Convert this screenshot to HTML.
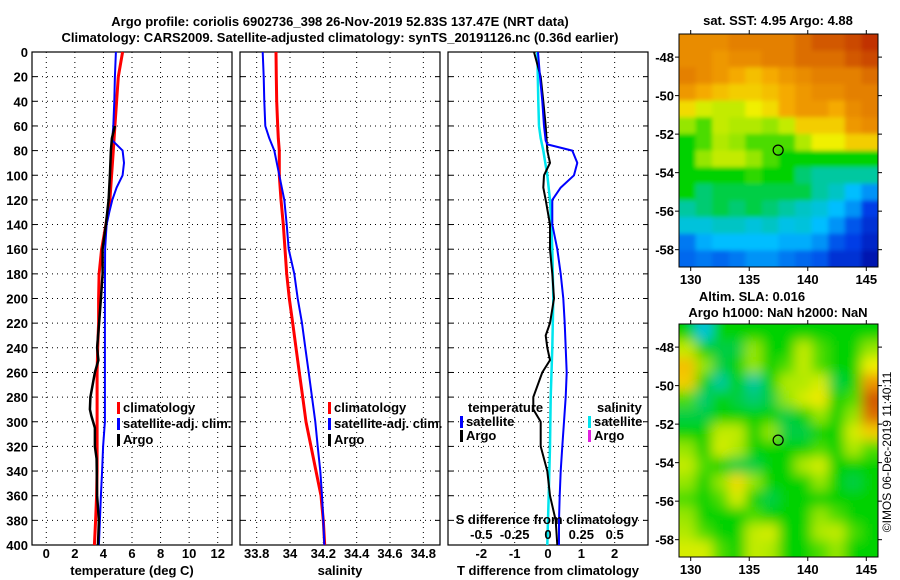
<!DOCTYPE html>
<html><head><meta charset="utf-8">
<style>
html,body{margin:0;padding:0;background:#fff;}
svg{display:block;font-family:"Liberation Sans",Arial,sans-serif;}
text{font-weight:bold;font-size:13px;fill:#000;}
</style></head>
<body>
<svg id="fig" width="900" height="580" viewBox="0 0 900 580" xmlns="http://www.w3.org/2000/svg">
<defs>
<filter id="blurS" x="-5%" y="-5%" width="110%" height="110%"><feGaussianBlur stdDeviation="2"/></filter>
<filter id="blurL" x="-5%" y="-5%" width="110%" height="110%"><feGaussianBlur stdDeviation="6"/></filter>
<clipPath id="clip1"><rect x="679" y="34" width="199" height="233"/></clipPath>
<clipPath id="clip2"><rect x="679" y="324" width="199" height="233"/></clipPath>
</defs>
<rect width="900" height="580" fill="#fff"/>
<text x="340" y="26" text-anchor="middle" font-size="14">Argo profile: coriolis 6902736_398 26-Nov-2019 52.83S 137.47E (NRT data)</text>
<text x="340" y="42" text-anchor="middle" font-size="14">Climatology: CARS2009. Satellite-adjusted climatology: synTS_20191126.nc (0.36d earlier)</text>
<g id="p1"></g>
<g id="p2"></g>
<g id="p3"></g>
<g id="m1"></g>
<g id="m2"></g>
<text x="778" y="25" text-anchor="middle">sat. SST: 4.95 Argo: 4.88</text>
<text x="752" y="301" text-anchor="middle">Altim. SLA: 0.016</text>
<text x="778" y="317" text-anchor="middle">Argo h1000: NaN h2000: NaN</text>
<text transform="translate(891,452) rotate(-90)" text-anchor="middle" style="font-weight:normal;font-size:12px">©IMOS 06-Dec-2019 11:40:11</text>
</svg>
<script>
// ---------- data ----------
const tempDepthClim = [0,20,40,60,80,100,120,140,160,180,200,220,240,260,280,300,320,340,360,380,400];
const tempClim = [5.34,5.04,4.92,4.8,4.69,4.57,4.45,4.17,3.87,3.7,3.66,3.66,3.6,3.56,3.56,3.56,3.56,3.56,3.52,3.45,3.37];
const tempDepthSat = [0,20,40,60,70,72,80,90,100,110,120,130,140,160,200,250,300,320,340,360,380,400];
const tempSat = [4.87,4.8,4.76,4.69,4.62,4.64,5.34,5.44,5.34,4.92,4.62,4.41,4.22,4.12,4.1,4.1,4.1,3.98,3.91,3.82,3.75,3.68];
const tempDepthArgo = [60,70,80,100,120,140,160,180,200,220,240,250,260,280,290,295,305,320,330,360,380,400];
const tempArgo = [4.8,4.59,4.52,4.45,4.36,4.17,3.94,3.94,3.82,3.7,3.56,3.65,3.4,3.09,3.05,3.15,3.4,3.4,3.52,3.56,3.68,3.62];

const salDepth = [0,20,40,60,70,80,100,120,140,160,180,200,220,240,260,280,300,320,340,360,380,400];
const salClim = [33.916,33.918,33.92,33.926,33.93,33.936,33.936,33.946,33.96,33.97,33.98,33.996,34.016,34.036,34.056,34.076,34.096,34.126,34.156,34.186,34.2,34.208];
const salSat = [33.836,33.842,33.846,33.852,33.876,33.906,33.936,33.966,33.98,33.992,34.026,34.046,34.072,34.092,34.112,34.132,34.152,34.166,34.182,34.192,34.2,34.206];

const diffDepthT = [0,20,40,60,72,75,80,90,100,110,120,140,160,180,200,220,240,260,280,300,320,340,360,380,400];
const diffTSat = [-0.3,-0.24,-0.17,-0.12,-0.07,-0.02,0.73,0.88,0.78,0.38,0.13,0.13,0.28,0.38,0.46,0.5,0.53,0.56,0.53,0.48,0.43,0.38,0.35,0.33,0.33];
const diffDepthArgo = [0,20,40,60,80,90,100,110,120,140,160,180,200,220,230,240,250,260,280,290,300,320,340,360,380,400];
const diffTArgo = [-0.42,-0.22,-0.14,-0.07,-0.02,0.06,-0.12,-0.14,-0.07,0.06,0.06,0.13,0.18,0.06,-0.07,-0.02,0.06,-0.17,-0.44,-0.44,-0.22,-0.22,-0.02,0.06,0.23,0.28];
const diffDepthS = [0,40,60,70,80,100,120,140,160,200,240,280,320,360,400];
const diffSSat = [-0.08,-0.0725,-0.0675,-0.055,-0.035,-0.005,0.015,0.025,0.0325,0.04,0.0325,0.02,0.015,0.005,-0.005];

const depthTicks = [0,20,40,60,80,100,120,140,160,180,200,220,240,260,280,300,320,340,360,380,400];
const tempTicks = [0,2,4,6,8,10,12];
const salTicks = [33.8,34,34.2,34.4,34.6,34.8];
const salTickLabels = ["33.8","34","34.2","34.4","34.6","34.8"];
const diffTTicks = [-2,-1,0,1,2];
const diffSTicks = [-0.5,-0.25,0,0.25,0.5];
const diffSTickLabels = ["-0.5","-0.25","0","0.25","0.5"];

const lonTicks = [130,135,140,145];
const latTicks = [-48,-50,-52,-54,-56,-58];
const argoLon = 137.47, argoLat = -52.83;

const sstGrid = [
[0.8,0.8,0.8,0.82,0.82,0.82,0.82,0.85,0.88,0.88,0.9,0.93],
[0.8,0.8,0.78,0.8,0.8,0.82,0.82,0.85,0.85,0.85,0.88,0.9],
[0.82,0.8,0.78,0.75,0.72,0.75,0.78,0.8,0.82,0.82,0.82,0.85],
[0.78,0.75,0.72,0.7,0.7,0.72,0.75,0.78,0.8,0.8,0.82,0.82],
[0.68,0.62,0.6,0.6,0.65,0.68,0.75,0.78,0.78,0.75,0.8,0.82],
[0.55,0.5,0.6,0.58,0.58,0.55,0.6,0.7,0.7,0.7,0.78,0.8],
[0.45,0.5,0.58,0.55,0.5,0.5,0.5,0.58,0.65,0.65,0.7,0.7],
[0.45,0.55,0.6,0.6,0.55,0.5,0.45,0.45,0.45,0.45,0.45,0.45],
[0.45,0.45,0.45,0.45,0.48,0.45,0.45,0.4,0.38,0.38,0.38,0.38],
[0.45,0.4,0.42,0.42,0.42,0.42,0.42,0.42,0.38,0.35,0.3,0.25],
[0.38,0.4,0.42,0.4,0.42,0.4,0.38,0.35,0.33,0.3,0.25,0.15],
[0.33,0.33,0.35,0.35,0.33,0.35,0.32,0.33,0.3,0.25,0.18,0.12],
[0.22,0.28,0.3,0.3,0.3,0.3,0.28,0.28,0.25,0.18,0.15,0.1],
[0.2,0.22,0.2,0.22,0.25,0.25,0.22,0.2,0.18,0.12,0.12,0.06]];
const slaGrid = [
[0.45,0.33,0.45,0.45,0.45,0.45,0.45,0.45,0.45,0.45,0.45,0.45],
[0.6,0.45,0.42,0.42,0.55,0.45,0.45,0.6,0.5,0.45,0.45,0.55],
[0.72,0.55,0.42,0.45,0.55,0.45,0.5,0.6,0.5,0.45,0.45,0.65],
[0.7,0.45,0.38,0.45,0.38,0.45,0.58,0.58,0.62,0.42,0.45,0.78],
[0.5,0.4,0.45,0.42,0.4,0.42,0.55,0.62,0.66,0.45,0.5,0.88],
[0.42,0.42,0.45,0.45,0.45,0.45,0.42,0.45,0.55,0.45,0.55,0.85],
[0.45,0.45,0.6,0.6,0.45,0.55,0.42,0.42,0.45,0.45,0.62,0.7],
[0.55,0.45,0.62,0.58,0.45,0.45,0.45,0.45,0.5,0.45,0.58,0.5],
[0.6,0.5,0.45,0.42,0.42,0.45,0.45,0.58,0.62,0.45,0.45,0.45],
[0.55,0.45,0.55,0.68,0.55,0.45,0.45,0.45,0.55,0.45,0.42,0.45],
[0.5,0.45,0.5,0.62,0.45,0.42,0.45,0.45,0.45,0.45,0.45,0.45],
[0.55,0.45,0.45,0.45,0.5,0.45,0.45,0.45,0.55,0.5,0.45,0.45],
[0.58,0.5,0.45,0.45,0.6,0.62,0.45,0.45,0.58,0.6,0.5,0.45],
[0.62,0.62,0.5,0.45,0.6,0.58,0.45,0.45,0.5,0.55,0.45,0.45]];

// ---------- helpers ----------
const NS="http://www.w3.org/2000/svg";
function mk(parent,tag,attrs,txt){const e=document.createElementNS(NS,tag);for(const k in attrs)e.setAttribute(k,attrs[k]);if(txt!==undefined)e.textContent=txt;parent.appendChild(e);return e;}
const TOP=52,BOT=545;
function yD(d){return TOP+(BOT-TOP)*d/400;}
function linScale(d0,d1,r0,r1){return v=>r0+(v-d0)*(r1-r0)/(d1-d0);}

function frame(g,x0,x1,xs,xticks){
  depthTicks.forEach(d=>{const y=yD(d);
    if(d>0&&d<400){const l=mk(g,'line',{x1:x0,x2:x1,y1:y,y2:y,stroke:'#000','stroke-width':1,'stroke-dasharray':'1,4'});
    }
    mk(g,'line',{x1:x0,x2:x0+5,y1:y,y2:y,stroke:'#000'});mk(g,'line',{x1:x1-5,x2:x1,y1:y,y2:y,stroke:'#000'});});
  xticks.forEach(v=>{const x=xs(v);
    const l=mk(g,'line',{x1:x,x2:x,y1:TOP,y2:BOT,stroke:'#000','stroke-width':1,'stroke-dasharray':'1,4'});
    });
  const r=mk(g,'rect',{x:x0,y:TOP,width:x1-x0,height:BOT-TOP,fill:'none',stroke:'#000','stroke-width':1.2});
  
}
function line(g,xs,vals,depths,color,w,name){
  const pts=vals.map((v,i)=>xs(v).toFixed(1)+','+yD(depths[i]).toFixed(1)).join(' ');
  const p=mk(g,'polyline',{points:pts,fill:'none',stroke:color,'stroke-width':w,'stroke-linejoin':'round'});
  
}
function xLabels(g,xs,ticks,labels,y){ticks.forEach((v,i)=>{const t=mk(g,'text',{x:xs(v),y:y,'text-anchor':'middle'},labels?labels[i]:String(v));
  });}
function legend(g,x,y,color,label){
  const b=mk(g,'rect',{x:x,y:y-10,width:3,height:12,fill:color});
  
  const t=mk(g,'text',{x:x+6,y:y},label);
  
}

// ---------- panel 1 ----------
const p1=document.getElementById('p1');
const xT=linScale(-1,13,32,232);
frame(p1,32,232,xT,tempTicks);
depthTicks.forEach(d=>{const t=mk(p1,'text',{x:28,y:yD(d)+5,'text-anchor':'end'},String(d));
  });
line(p1,xT,tempClim,tempDepthClim,'#f00',3,'climatology-line');
line(p1,xT,tempSat,tempDepthSat,'#00f',2,'satellite-adj-line');
line(p1,xT,tempArgo,tempDepthArgo,'#000',2.5,'argo-line');
xLabels(p1,xT,tempTicks,null,558);
mk(p1,'text',{x:132,y:575,'text-anchor':'middle'},'temperature (deg C)');
legend(p1,117,412,'#f00','climatology');
legend(p1,117,428,'#00f','satellite-adj. clim.');
legend(p1,117,444,'#000','Argo');

// ---------- panel 2 ----------
const p2=document.getElementById('p2');
const xS=linScale(33.7,34.9,240,440);
frame(p2,240,440,xS,salTicks);
line(p2,xS,salClim,salDepth,'#f00',3,'climatology-line');
line(p2,xS,salSat,salDepth,'#00f',2,'satellite-adj-line');
xLabels(p2,xS,salTicks,salTickLabels,558);
mk(p2,'text',{x:340,y:575,'text-anchor':'middle'},'salinity');
legend(p2,328,412,'#f00','climatology');
legend(p2,328,428,'#00f','satellite-adj. clim.');
legend(p2,328,444,'#000','Argo');

// ---------- panel 3 ----------
const p3=document.getElementById('p3');
const xDT=linScale(-3,3,448,648);
const xDS=linScale(-0.75,0.75,448,648);
frame(p3,448,648,xDT,diffTTicks);
line(p3,xDS,diffSSat,diffDepthS,'#00e5ee',2.5,'salinity-satellite-diff-line');
line(p3,xDT,diffTArgo,diffDepthArgo,'#000',2,'temperature-argo-diff-line');
line(p3,xDT,diffTSat,diffDepthT,'#00f',2,'temperature-satellite-diff-line');
xLabels(p3,xDT,diffTTicks,null,558);
mk(p3,'text',{x:548,y:575,'text-anchor':'middle'},'T difference from climatology');
mk(p3,'text',{x:547,y:524,'text-anchor':'middle'},'S difference from climatology');
xLabels(p3,xDS,diffSTicks,diffSTickLabels,539);
mk(p3,'text',{x:468,y:412},'temperature');
legend(p3,460,426,'#00f','satellite');
legend(p3,460,440,'#000','Argo');
mk(p3,'text',{x:597,y:412},'salinity');
legend(p3,588,426,'#00e5ee','satellite');
legend(p3,588,440,'#e020e0','Argo');

// ---------- maps ----------
const stops=[[0,[0,0,140]],[0.15,[0,60,230]],[0.3,[0,190,255]],[0.38,[0,200,160]],[0.45,[0,210,0]],[0.55,[150,230,0]],[0.65,[240,240,0]],[0.75,[245,170,0]],[0.85,[220,110,0]],[1,[170,0,0]]];
function cmap(v){for(let i=1;i<stops.length;i++){if(v<=stops[i][0]){const a=stops[i-1],b=stops[i];const t=(v-a[0])/(b[0]-a[0]);
  const c=a[1].map((x,k)=>Math.round(x+(b[1][k]-x)*t));return 'rgb('+c.join(',')+')';}}return 'rgb(170,0,0)';}
function drawMap(id,grid,top,name,clip,blur){
  const g=document.getElementById(id);
  const X0=679,X1=878,Y0=top,Y1=top+233;
  const lonS=linScale(129,146,X0,X1), latS=linScale(-46.8,-58.9,Y0,Y1);
  const cg=mk(g,'g',{'clip-path':'url(#'+clip+')'});
  const bg=mk(cg,'g',{filter:'url(#'+blur+')'});
  const rows=grid.length,cols=grid[0].length,cw=(X1-X0)/cols,ch=(Y1-Y0)/rows;
  grid.forEach((row,r)=>row.forEach((v,c)=>{
    const x=X0+c*cw-(c===0?12:0), y=Y0+r*ch-(r===0?12:0);
    const w=cw+0.5+(c===0?12:0)+(c===cols-1?12:0), h=ch+0.5+(r===0?12:0)+(r===rows-1?12:0);
    const cell=mk(bg,'rect',{x:x,y:y,width:w,height:h,fill:cmap(v)});
    }));
  mk(g,'rect',{x:X0,y:Y0,width:X1-X0,height:Y1-Y0,fill:'none',stroke:'#000'});
  lonTicks.forEach(l=>{const x=lonS(l);mk(g,'line',{x1:x,x2:x,y1:Y0-4,y2:Y0,stroke:'#000'});mk(g,'line',{x1:x,x2:x,y1:Y1,y2:Y1+4,stroke:'#000'});
    const t=mk(g,'text',{x:x,y:Y1+17,'text-anchor':'middle'},String(l));});
  latTicks.forEach(l=>{const y=latS(l);mk(g,'line',{x1:X0-4,x2:X0,y1:y,y2:y,stroke:'#000'});mk(g,'line',{x1:X1,x2:X1+4,y1:y,y2:y,stroke:'#000'});
    const t=mk(g,'text',{x:X0-5,y:y+5,'text-anchor':'end'},String(l));});
  const m=mk(g,'circle',{cx:lonS(argoLon),cy:latS(argoLat),r:5,fill:'none',stroke:'#000','stroke-width':1.2});
  
}
drawMap('m1',sstGrid,34,'sst','clip1','blurS');
drawMap('m2',slaGrid,324,'sla','clip2','blurL');
</script>
</body></html>
